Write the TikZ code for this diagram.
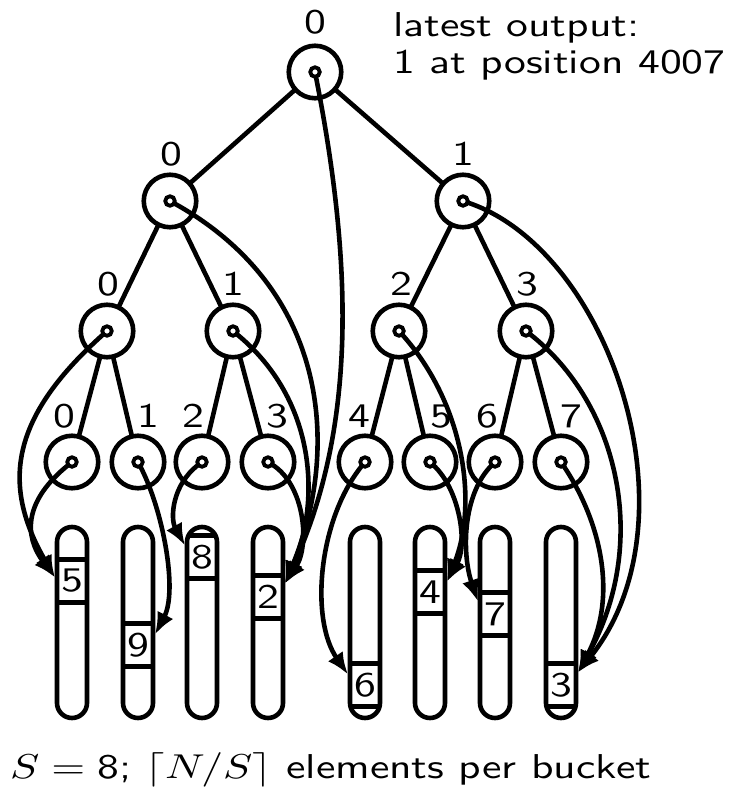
\documentclass[tikz,border=0pt]{standalone}
\usepackage{graphicx}
\usetikzlibrary{arrows.meta}
% text is set at 10pt and enlarged, a little wider than tall
\newcommand{\wtxt}[1]{\scalebox{4.36}[3.45]{#1}}
\begin{document}
\begin{tikzpicture}[x=1pt,y=-1pt,
  every node/.style={inner sep=0pt, outer sep=0pt},
  txt/.style={font=\fontsize{10}{12}\selectfont\sffamily},
  tnode/.style={circle, draw, line width=4.6pt, minimum size=52.5pt},
  pin/.style={circle, draw, line width=3.8pt, minimum size=9.5pt},
  lbl/.style={txt, anchor=base},
  bucket/.style={draw, line width=4.6pt, rounded corners=15pt, minimum width=30pt, minimum height=191pt},
  cell/.style={txt, minimum width=30pt, minimum height=43pt},
  edge/.style={line width=4.6pt},
  ptr/.style={line width=4.6pt, -{Latex[length=22pt,width=18pt]}},
]
\fill[white] (0,0) rectangle (742,789);
\useasboundingbox (0,0) rectangle (742,789);

% ---- buckets with their current front elements ----
\foreach \x [count=\i from 0] in {72,138,202,268,365,430,495,561}
  \node[bucket] (b\i) at (\x,622.5) {};

\node[cell] (c0) at (72,581) {\wtxt{5}};
\node[cell] (c1) at (138,645) {\wtxt{9}};
\node[cell] (c2) at (202,557) {\wtxt{8}};
\node[cell] (c3) at (268,597) {\wtxt{2}};
\node[cell] (c4) at (365,685) {\wtxt{6}};
\node[cell] (c5) at (430,592) {\wtxt{4}};
\node[cell] (c6) at (495,614) {\wtxt{7}};
\node[cell] (c7) at (561,685) {\wtxt{3}};
\foreach \i in {0,...,7} {
  \draw[line width=4.6pt] (c\i.north west) -- (c\i.north east);
  \draw[line width=4.6pt] (c\i.south west) -- (c\i.south east);
}

% arrow targets on the bucket walls
\coordinate (t0) at ([xshift=-2pt,yshift=-18pt]c0.north west);
\coordinate (t1) at ([xshift=2pt,yshift=-11pt]c1.north east);
\coordinate (t2) at ([xshift=-2pt,yshift=-10pt]c2.north west);
\coordinate (t3) at ([xshift=2pt,yshift=-8pt]c3.north east);
\coordinate (t4) at ([xshift=-2pt,yshift=-11pt]c4.north west);
\coordinate (t5) at ([xshift=2pt,yshift=-11pt]c5.north east);
\coordinate (t6) at ([xshift=-2pt,yshift=-9pt]c6.north west);
\coordinate (t7) at ([xshift=2pt,yshift=-9pt]c7.north east);

% ---- tournament tree ----
\node[tnode] (root) at (315,72) {};
\node[tnode] (a0) at (170,201) {};
\node[tnode] (a1) at (463,201) {};
\node[tnode] (m0) at (107,331) {};
\node[tnode] (m1) at (233,331) {};
\node[tnode] (m2) at (399,331) {};
\node[tnode] (m3) at (526,331) {};
\foreach \x [count=\i from 0] in {72,138,202,268,365,430,495,561}
  \node[tnode] (l\i) at (\x,462) {};

\foreach \n in {root,a0,a1,m0,m1,m2,m3,l0,l1,l2,l3,l4,l5,l6,l7}
  \node[pin] (\n d) at (\n) {};

\draw[edge] (root) -- (a0);
\draw[edge] (root) -- (a1);
\draw[edge] (a0) -- (m0);
\draw[edge] (a0) -- (m1);
\draw[edge] (a1) -- (m2);
\draw[edge] (a1) -- (m3);
\draw[edge] (m0) -- (l0);
\draw[edge] (m0) -- (l1);
\draw[edge] (m1) -- (l2);
\draw[edge] (m1) -- (l3);
\draw[edge] (m2) -- (l4);
\draw[edge] (m2) -- (l5);
\draw[edge] (m3) -- (l6);
\draw[edge] (m3) -- (l7);

% node indices
\node[lbl] (root-i) at (315,34) {\wtxt{0}};
\node[lbl] (a0-i) at (171,165) {\wtxt{0}};
\node[lbl] (a1-i) at (463,165) {\wtxt{1}};
\node[lbl] (m0-i) at (108,295) {\wtxt{0}};
\node[lbl] (m1-i) at (233,295) {\wtxt{1}};
\node[lbl] (m2-i) at (401,295) {\wtxt{2}};
\node[lbl] (m3-i) at (527,295) {\wtxt{3}};
\node[lbl] (l0-i) at (64,427) {\wtxt{0}};
\node[lbl] (l1-i) at (148,427) {\wtxt{1}};
\node[lbl] (l2-i) at (193,427) {\wtxt{2}};
\node[lbl] (l3-i) at (277,427) {\wtxt{3}};
\node[lbl] (l4-i) at (359,427) {\wtxt{4}};
\node[lbl] (l5-i) at (441,427) {\wtxt{5}};
\node[lbl] (l6-i) at (487,427) {\wtxt{6}};
\node[lbl] (l7-i) at (571,427) {\wtxt{7}};

% ---- pointers from tree nodes to the winning elements ----
\draw[ptr] (l0d) .. controls +(-47,38) and +(-32,-43) .. (t0);
\draw[ptr] (m0d) .. controls +(-95,85) and +(-55,-95) .. (t0);
\draw[ptr] (l1d) .. controls +(25,48) and +(23,-44) .. (t1);
\draw[ptr] (l2d) .. controls +(-30,23) and +(-15,-27) .. (t2);
\draw[ptr] (l3d) .. controls +(37,23) and +(25,-38) .. (t3);
\draw[ptr] (m1d) .. controls +(85,70) and +(35,-80) .. (t3);
\draw[ptr] (a0d) .. controls +(160,89) and +(55,-133) .. (t3);
\draw[ptr] (rootd) .. controls +(35,178) and +(75,-163) .. (t3);
\draw[ptr] (l4d) .. controls +(-47,58) and +(-38,-55) .. (t4);
\draw[ptr] (l5d) .. controls +(30,28) and +(21,-37) .. (t5);
\draw[ptr] (m2d) .. controls +(66,74) and +(31,-77) .. (t5);
\draw[ptr] (l6d) .. controls +(-33,33) and +(-16,-47) .. (t6);
\draw[ptr] (l7d) .. controls +(42,63) and +(39,-73) .. (t7);
\draw[ptr] (m3d) .. controls +(94,74) and +(72,-128) .. (t7);
\draw[ptr] (a1d) .. controls +(147,49) and +(122,-153) .. (t7);

% ---- captions ----
\node[txt, anchor=base west] (out1) at (393,37) {\wtxt{latest output:}};
\node[txt, anchor=base west] (out2) at (393,74) {\wtxt{1 at position 4007}};
\node[txt, anchor=base west] (cap) at (10,778) {\wtxt{$S={}$8; $\lceil N/S\rceil$ elements per bucket}};
\end{tikzpicture}
\end{document}
